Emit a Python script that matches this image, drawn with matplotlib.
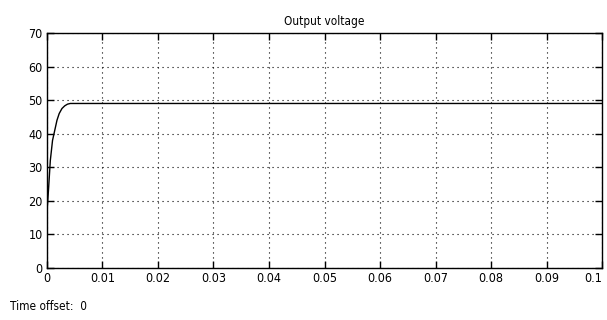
import matplotlib.pyplot as plt
import numpy as np

# output voltage
t = [0, 0, 0.0001, 0.0003, 0.0006, 0.001, 0.0014, 0.0018, 0.0022, 0.0027, 0.0032, 0.0037, 0.0042, 0.1]
v = [10, 17, 19, 24, 32, 38, 41, 44, 46, 47.5, 48.3, 48.8, 49, 49]

xticks = [0, 0.01, 0.02, 0.03, 0.04, 0.05, 0.06, 0.07, 0.08, 0.09, 0.1]
xlabels = ['0', '0.01', '0.02', '0.03', '0.04', '0.05', '0.06', '0.07', '0.08', '0.09', '0.1']
yticks = [0, 10, 20, 30, 40, 50, 60, 70]

plt.rcParams['font.family'] = ['DejaVu Sans']
plt.rcParams['font.stretch'] = 'condensed'

fig = plt.figure(figsize=(6.07, 3.2), dpi=100)
ax = fig.add_axes([0.0774, 0.1625, 0.9144, 0.7345])
ax.plot(t, v, color='black', linewidth=1.0)

ax.set_xlim(0, 0.1)
ax.set_ylim(0, 70)
ax.set_xticks(xticks)
ax.set_xticklabels(xlabels)
ax.set_yticks(yticks)
ax.tick_params(direction='in', top=True, right=True, length=5, width=1,
               labelsize=9, pad=3)
ax.xaxis.get_ticklabels()[-1].set_horizontalalignment('right')
ax.grid(True, color='black', linestyle=(0, (1, 3.5)), linewidth=0.8)
for s in ax.spines.values():
    s.set_linewidth(1.0)

ax.set_title('Output voltage', fontsize=8.5, pad=6)
fig.text(0.016, 0.03, 'Time offset:  0', fontsize=8.5)

fig.savefig('out.png', dpi=100)
